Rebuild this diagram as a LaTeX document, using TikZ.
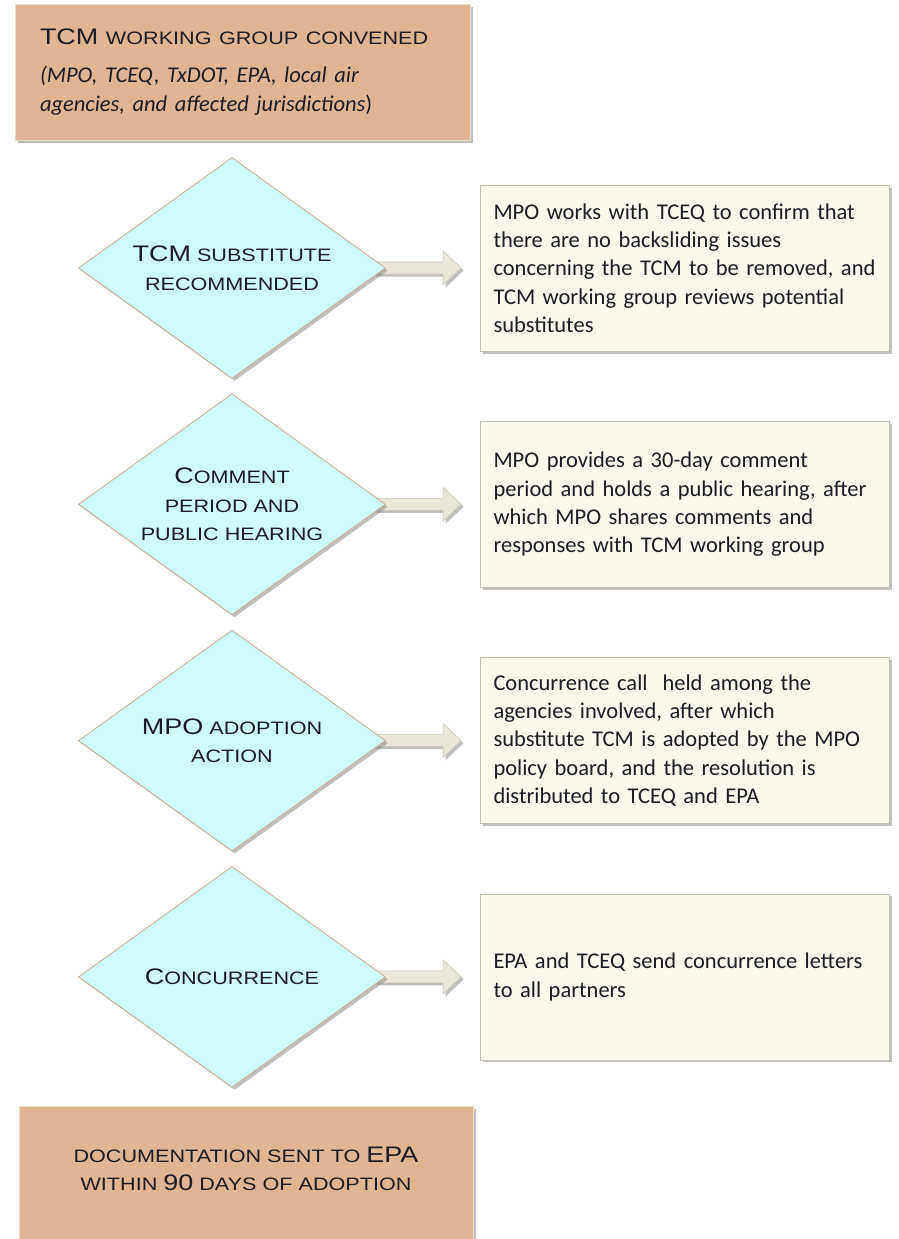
\documentclass[tikz,border=0pt]{standalone}
\usepackage{fontspec}
\setmainfont{Carlito}
\newfontfamily\cpfont[FakeStretch=1.2]{Liberation Sans}
\usepackage{xcolor}
\usepackage{tikz}
\usetikzlibrary{arrows,shapes.geometric,shadows,backgrounds}

\definecolor{tanfill}{RGB}{223,181,147}
\definecolor{tanline}{RGB}{232,222,200}
\definecolor{cyanfill}{RGB}{206,250,250}
\definecolor{diamline}{RGB}{205,170,140}
\definecolor{creamfill}{RGB}{251,248,238}
\definecolor{creamline}{RGB}{196,192,178}
\definecolor{arrowfill}{RGB}{234,230,218}
\definecolor{arrowline}{RGB}{200,195,180}
\definecolor{inktext}{RGB}{28,28,38}

\newcommand{\bigcp}[1]{{\fontsize{22.5}{28.5}\selectfont #1}}
\newcommand{\smallcp}[1]{{\fontsize{18}{28.5}\selectfont\MakeUppercase{#1}}}
\newcommand{\blockarrow}[2]{%
  \draw[flow arrow] ([xshift=-12pt,yshift=6pt]#1.east)
    -- ([xshift=-37pt,yshift=6pt]#2.west)
    -- ([xshift=-37pt,yshift=17pt]#2.west)
    -- ([xshift=-19pt]#2.west)
    -- ([xshift=-37pt,yshift=-17pt]#2.west)
    -- ([xshift=-37pt,yshift=-6pt]#2.west)
    -- ([xshift=-12pt,yshift=-6pt]#1.east) -- cycle;}

\begin{document}
\begin{tikzpicture}[x=1pt,y=-1pt,node distance=236.3pt,text=inktext,
                    shade/.style={drop shadow={shadow xshift=2.5pt,shadow yshift=-2.5pt,
                                  opacity=0.5,fill=black!50}}]
  \tikzstyle{start box}=[rectangle,fill=tanfill,draw=tanline,line width=1pt,shade,
                         minimum width=455pt,inner xsep=25pt]
  \tikzstyle{decision}=[diamond,fill=cyanfill,draw=diamline,line width=0.8pt,shade,
                        aspect=1.39,minimum width=307pt,minimum height=221pt,inner sep=0pt,
                        align=center,font=\cpfont\fontsize{18}{28.5}\selectfont]
  \tikzstyle{info}=[rectangle,fill=creamfill,draw=creamline,line width=0.8pt,shade,
                    text width=383pt,inner xsep=13pt,minimum height=166pt,align=left,
                    font=\fontsize{22.5}{28.3}\selectfont]
  \tikzstyle{flow arrow}=[fill=arrowfill,draw=arrowline,line width=0.6pt,shade]

  \useasboundingbox (0,0) rectangle (898,1239);

  \node[start box,text width=405pt,minimum height=135pt,align=left,
        font=\fontsize{22.5}{29}\selectfont] (T) at (242.5,72.5)
        {{\cpfont\bigcp{TCM} \smallcp{working group convened}}\\[9pt]
         {\itshape (MPO, TCEQ, TxDOT, EPA, local air}\\
         {\itshape agencies, and affected jurisdictions})};

  \node[decision] (A) at (232,268)  {\bigcp{TCM} \smallcp{substitute}\\ \smallcp{recommended}};
  \node[decision] (B) [below of=A] {\bigcp{C}\smallcp{omment}\\ \smallcp{period and}\\ \smallcp{public hearing}};
  \node[decision] (C) [below of=B] {\bigcp{MPO} \smallcp{adoption}\\ \smallcp{action}};
  \node[decision] (D) [below of=C] {\bigcp{C}\smallcp{oncurrence}};

  \node[info,node distance=453pt] (E) [right of=A]
        {MPO works with TCEQ to confirm that\\ there are no backsliding issues\\
         concerning the TCM to be removed, and\\ TCM working group reviews potential\\ substitutes};
  \node[info,node distance=453pt] (F) [right of=B]
        {MPO provides a 30-day comment\\ period and holds a public hearing, after\\
         which MPO shares comments and\\ responses with TCM working group};
  \node[info,node distance=453pt] (G) [right of=C]
        {Concurrence call\ \ held among the\\ agencies involved, after which\\
         substitute TCM is adopted by the MPO\\ policy board, and the resolution is\\
         distributed to TCEQ and EPA};
  \node[info,node distance=453pt] (H) [right of=D]
        {EPA and TCEQ send concurrence letters\\ to all partners};

  \node[start box,anchor=north,minimum width=454pt,text height=44pt,text depth=22pt,
        inner ysep=40pt,align=center,font=\cpfont\fontsize{18}{28}\selectfont] (Z) at (246,1106)
        {\smallcp{documentation sent to} \bigcp{EPA}\\ \smallcp{within} \bigcp{90} \smallcp{days of adoption}};

  \begin{scope}[on background layer]
    \blockarrow{A}{E}
    \blockarrow{B}{F}
    \blockarrow{C}{G}
    \blockarrow{D}{H}
  \end{scope}
\end{tikzpicture}
\end{document}
